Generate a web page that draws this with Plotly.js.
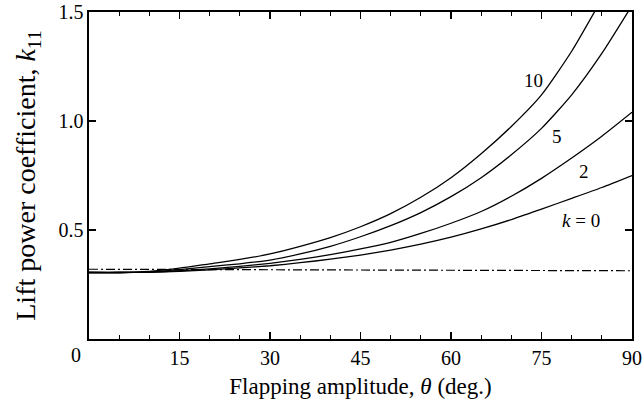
<!DOCTYPE html>
<html>
<head>
<meta charset="utf-8">
<script src="https://cdn.plot.ly/plotly-3.0.1.min.js"></script>
<style>html,body{margin:0;padding:0;background:#fff;}#chart{width:644px;height:412px;}</style>
</head>
<body>
<div id="chart"></div>
<script>
// Flapping amplitude (deg)
const theta = [0, 5, 10, 15, 20, 25, 30, 35, 40, 45, 50, 55, 60, 65, 70, 75, 80, 85, 90];
// Lift power coefficient k11 for each reduced frequency k
const k0  = [0.305, 0.305, 0.306, 0.310, 0.317, 0.326, 0.336, 0.350, 0.366, 0.385, 0.408, 0.435, 0.467, 0.505, 0.548, 0.596, 0.645, 0.695, 0.750];
const k2  = [0.305, 0.305, 0.307, 0.313, 0.322, 0.333, 0.347, 0.365, 0.387, 0.413, 0.443, 0.484, 0.531, 0.585, 0.655, 0.737, 0.830, 0.930, 1.040];
const k5  = [0.305, 0.305, 0.308, 0.318, 0.332, 0.345, 0.362, 0.390, 0.425, 0.469, 0.520, 0.580, 0.653, 0.740, 0.845, 0.966, 1.120, 1.310, 1.530];
const theta10 = [0, 5, 10, 15, 20, 25, 30, 35, 40, 45, 50, 55, 60, 65, 70, 75, 80, 85];
const k10 = [0.305, 0.305, 0.310, 0.325, 0.345, 0.365, 0.390, 0.425, 0.465, 0.515, 0.575, 0.650, 0.740, 0.850, 0.975, 1.120, 1.320, 1.560];
// Dash-dot reference line
const thetaRef = [0, 30, 60, 90];
const kRef = [0.320, 0.317, 0.315, 0.313];
// Curve labels
const labelText = ["10", "5", "2", "<i>k</i> = 0"];
const labelX = [73.6, 77.6, 82.1, 81.5];
const labelY = [1.185, 0.93, 0.77, 0.545];

const solid = {color: '#000', width: 1.3, shape: 'spline', smoothing: 0.6};
const traces = [
  {x: theta, y: k0, mode: 'lines', line: solid},
  {x: theta, y: k2, mode: 'lines', line: solid},
  {x: theta, y: k5, mode: 'lines', line: solid},
  {x: theta10, y: k10, mode: 'lines', line: solid},
  {x: thetaRef, y: kRef, mode: 'lines', line: {color: '#000', width: 1.2, dash: '9px,3px,2px,3px'}}
];
const FAM = 'Liberation Serif';
const annotations = labelText.map((t, i) => ({
  x: labelX[i], y: labelY[i], xref: 'x', yref: 'y', text: t, showarrow: false,
  xanchor: 'center', yanchor: 'middle',
  font: {family: FAM, color: '#000', size: 19}
}));
// "0" at the lower-left corner, pixel position (76, 355) converted to paper units
annotations.push({
  x: (76 - 89) / (632 - 89), y: (339 - 355) / (339 - 12), xref: 'paper', yref: 'paper',
  xanchor: 'center', yanchor: 'middle', text: '0', showarrow: false,
  font: {family: FAM, color: '#000', size: 20}
});

const layout = {
  width: 644, height: 412,
  margin: {l: 89, r: 12, t: 12, b: 73},
  paper_bgcolor: '#fff', plot_bgcolor: '#fff',
  showlegend: false,
  font: {family: FAM, color: '#000', size: 20},
  xaxis: {
    range: [0, 90], tickvals: [15, 30, 45, 60, 75, 90], ticktext: ['15', '30', '45', '60', '75', '90'],
    ticks: 'inside', ticklen: 7, tickwidth: 1.2, tickcolor: '#000',
    minor: {dtick: 5, ticks: 'inside', ticklen: 4, tickwidth: 1, tickcolor: '#000'},
    showline: true, linecolor: '#000', linewidth: 1.6, mirror: 'allticks',
    showgrid: false, zeroline: false,
    tickfont: {family: FAM, color: '#000', size: 20},
    title: {text: 'Flapping amplitude, <i>θ</i> (deg.)', font: {family: FAM, color: '#000', size: 23}, standoff: 10}
  },
  yaxis: {
    range: [0, 1.5], tickvals: [0.5, 1.0, 1.5], ticktext: ['0.5', '1.0', '1.5'],
    ticks: 'inside', ticklen: 7, tickwidth: 1.2, tickcolor: '#000',
    showline: true, linecolor: '#000', linewidth: 1.6, mirror: 'allticks',
    showgrid: false, zeroline: false,
    tickfont: {family: FAM, color: '#000', size: 20},
    title: {text: 'Lift power coefficient, <i>k</i><sub>11</sub>', font: {family: FAM, color: '#000', size: 28}, standoff: 14}
  },
  annotations: annotations
};
Plotly.newPlot('chart', traces, layout, {displayModeBar: false, staticPlot: true});
</script>
</body>
</html>
